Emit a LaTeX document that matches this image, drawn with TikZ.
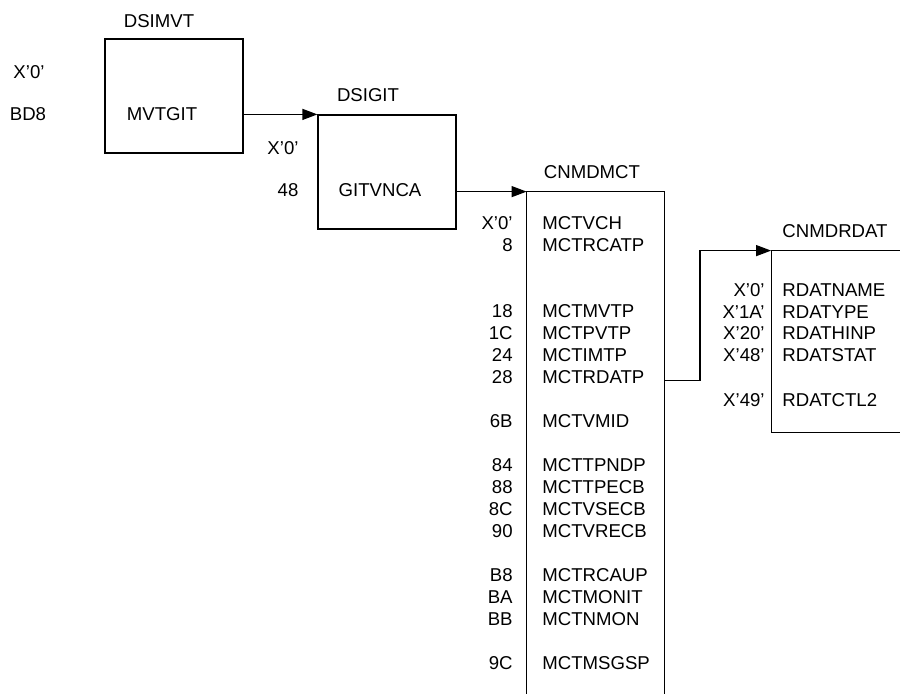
\documentclass[tikz,border=0pt]{standalone}
\usepackage{fontspec}
\setmainfont{Liberation Sans}
\usetikzlibrary{arrows.meta}
\begin{document}
\begin{tikzpicture}[
  x=0.5pt, y=-0.5pt,
  every node/.style={font=\fontsize{9.3}{11}\selectfont, inner sep=0pt},
  blockbox/.style={draw, line width=0.6pt},
  offs/.style={anchor=east},
  fld/.style={anchor=west},
  link/.style={line width=0.6pt, -{Triangle[length=7.5pt, width=5.5pt]}},
]
  \useasboundingbox (0,0) rectangle (900,693);

  % DSIMVT
  \node[blockbox, minimum width=69pt, minimum height=57pt] (mvt) at (174,96) {};
  \node (mvttitle) at (159,21) {DSIMVT};
  \node (mvtoff1) at (29,72) {X'0'};
  \node (mvtoff2) at (28,114) {BD8};
  \node (mvtgit) at (162,114) {MVTGIT};

  % DSIGIT
  \node[blockbox, minimum width=69pt, minimum height=57pt] (git) at (387,172) {};
  \node (gittitle) at (368,95) {DSIGIT};
  \node (gitoff1) at (283,148) {X'0'};
  \node (gitoff2) at (288,190) {48};
  \node (gitvnca) at (380,190) {GITVNCA};

  % CNMDMCT (open at the bottom)
  \node[minimum width=68.5pt, minimum height=251.5pt] (mct) at (595.5,443.5) {};
  \draw[line width=0.6pt] (mct.south west) -- (mct.north west) -- (mct.north east) -- (mct.south east);
  \node (mcttitle) at (592,172) {CNMDMCT};
  \foreach \y/\off/\fname in {223/X'0'/MCTVCH, 245.5/8/MCTRCATP, 311.5/18/MCTMVTP,
      333/1C/MCTPVTP, 355/24/MCTIMTP, 377/28/MCTRDATP, 421.5/6B/MCTVMID,
      465/84/MCTTPNDP, 487.5/88/MCTTPECB, 509/8C/MCTVSECB, 531/90/MCTVRECB,
      575.5/B8/MCTRCAUP, 597.5/BA/MCTMONIT, 619.5/BB/MCTNMON, 663.5/9C/MCTMSGSP}
    {\node[offs] (off\fname) at (513,\y) {\off};
     \node[fld] (\fname) at (542,\y) {\fname};}

  % CNMDRDAT (open at the right)
  \node[minimum width=64.25pt, minimum height=90.5pt] (rdat) at (835.75,341.5) {};
  \draw[line width=0.6pt] (rdat.north east) -- (rdat.north west) -- (rdat.south west) -- (rdat.south east);
  \node (rdattitle) at (835,231) {CNMDRDAT};
  \foreach \y/\off/\fname in {290/X'0'/RDATNAME, 312/X'1A'/RDATYPE, 333.5/X'20'/RDATHINP,
      355.5/X'48'/RDATSTAT, 400/X'49'/RDATCTL2}
    {\node[offs] (off\fname) at (765,\y) {\off};
     \node[fld] (\fname) at (782,\y) {\fname};}

  % Arrows
  \draw[link] (mvt.east |- git.north west) -- (git.north west);
  \draw[link] (git.east |- mct.north west) -- (mct.north west);
  \coordinate (bend) at (700,380.5);
  \draw[link] (mct.east |- bend) -- (bend) |- (rdat.north west);
\end{tikzpicture}
\end{document}
